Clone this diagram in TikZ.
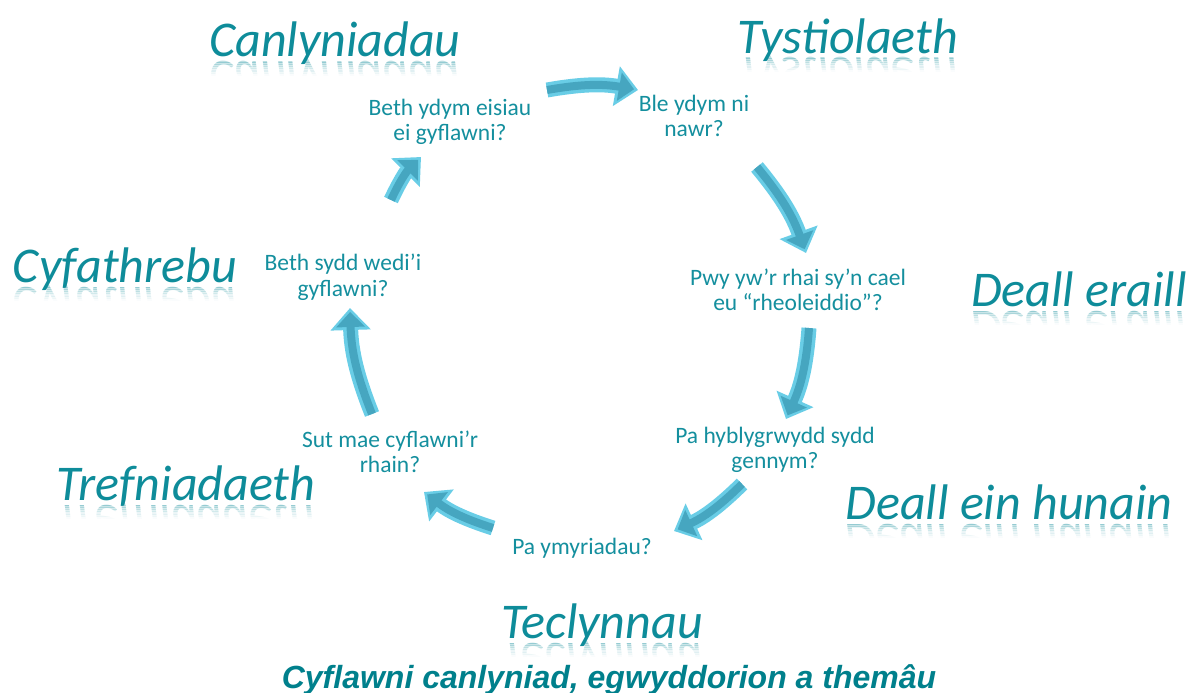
\documentclass[tikz,border=0pt]{standalone}
\usepackage{fontspec}
\setmainfont{Carlito}
\newfontfamily\capfont{Liberation Sans}
\usetikzlibrary{arrows.meta}
\definecolor{tealtext}{RGB}{20,143,158}
\definecolor{tealbig}{RGB}{14,140,154}
\definecolor{captext}{RGB}{0,128,140}
\definecolor{arrowedge}{RGB}{105,205,230}
\definecolor{arrowfill}{RGB}{70,166,192}
\tikzset{
  qtext/.style={text=tealtext, align=center, font=\fontsize{23.5}{25.5}\selectfont, inner sep=0pt},
  biglabel/.style={text=tealbig, font=\fontsize{50}{55}\selectfont\itshape, inner sep=0pt, anchor=base},
  cycout/.style={line width=15pt, draw=arrowedge, -{Triangle[width=39pt,length=22pt]}},
  cycin/.style={line width=8pt, draw=arrowfill, shorten >=4pt, -{Triangle[width=28pt,length=15pt]}},
}
% reflected big label: name, x, baseline y (pixels, downward), text
\newcommand{\reflabel}[4]{%
  \node[biglabel] (#1) at (#2,-#3) {#4};
  \foreach \k/\op in {0/0.28,1/0.22,2/0.17,3/0.12,4/0.08,5/0.05,6/0.02}{%
    \begin{scope}
      \clip (#2-200,-#3-3-2.2*\k) rectangle (#2+200,-#3-5.3-2.2*\k);
      \node[biglabel, yscale=-1, transform shape, opacity=\op] (#1r\k) at (#2,-#3-5) {#4};
    \end{scope}}%
}
\begin{document}
\begin{tikzpicture}[x=1pt,y=1pt]
\useasboundingbox (0,0) rectangle (1191,-693);
\fill[white] (0,0) rectangle (1191,-693);

% big labels
\reflabel{lcan}{335}{57}{Canlyniadau}
\reflabel{ltys}{848}{53}{Tystiolaeth}
\reflabel{lcyf}{125}{282}{Cyfathrebu}
\reflabel{ldee}{1079}{306}{Deall eraill}
\reflabel{ltre}{186}{500}{Trefniadaeth}
\reflabel{ldeh}{1009}{519}{Deall ein hunain}
\reflabel{ltec}{602}{638}{Teclynnau}

% question nodes
\node[qtext] (q1) at (450,-122) {Beth ydym eisiau\\ei gyflawni?};
\node[qtext] (q2) at (694,-116) {Ble ydym ni\\nawr?};
\node[qtext] (q3) at (798,-290) {Pwy yw’r rhai sy’n cael\\eu “rheoleiddio”?};
\node[qtext] (q4) at (775,-450) {Pa hyblygrwydd sydd\\gennym?};
\node[qtext] (q5) at (582,-548) {Pa ymyriadau?};
\node[qtext] (q6) at (390,-452) {Sut mae cyflawni’r\\rhain?};
\node[qtext] (q7) at (343,-277) {Beth sydd wedi'i\\gyflawni?};

% caption
\node[text=captext, font=\capfont\fontsize{32}{35}\selectfont\bfseries\itshape, inner sep=0pt, anchor=base] (cap) at (609,-688) {Cyflawni canlyniad, egwyddorion a themâu};

% arrow end points
\coordinate (a1s) at (547,-90);  \coordinate (a1e) at (638,-90);
\coordinate (a2s) at (757,-167); \coordinate (a2e) at (806,-253);
\coordinate (a3s) at (809,-328); \coordinate (a3e) at (786,-419);
\coordinate (a4s) at (742,-484); \coordinate (a4e) at (674,-531);
\coordinate (a5s) at (493,-528); \coordinate (a5e) at (424,-492);
\coordinate (a6s) at (372,-414); \coordinate (a6e) at (350,-308);
\coordinate (a7s) at (391,-200); \coordinate (a7e) at (421,-157);

\foreach \i in {1,...,7}{
  \draw[cycout] (a\i s) to[bend left=10] (a\i e);
  \draw[cycin] (a\i s) to[bend left=10] (a\i e);
}
\end{tikzpicture}
\end{document}
